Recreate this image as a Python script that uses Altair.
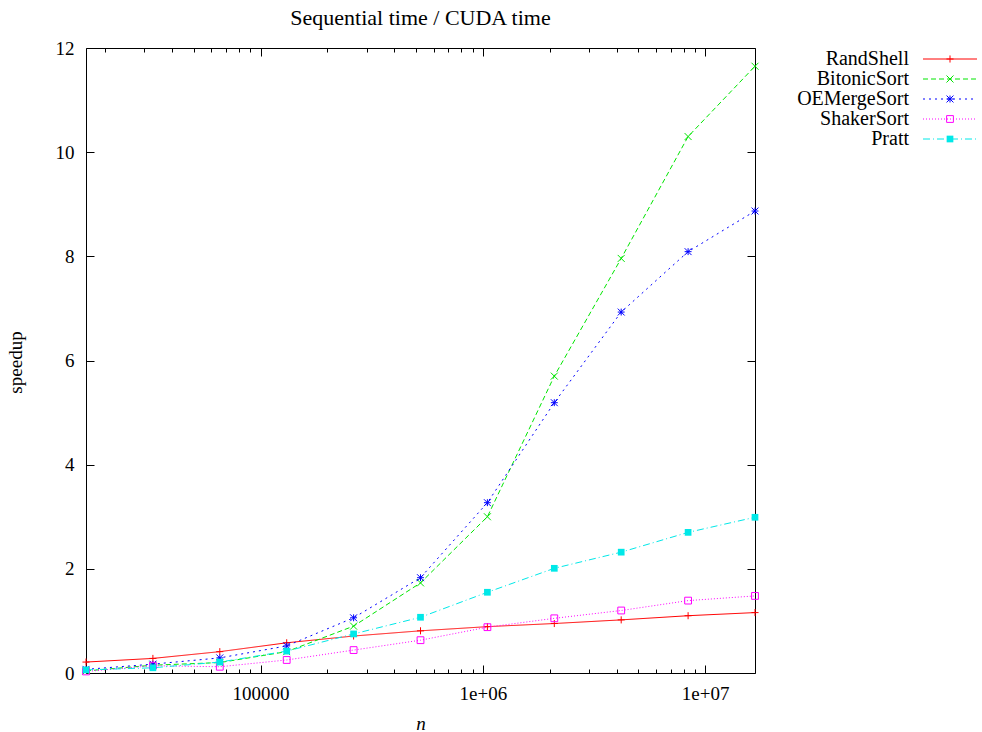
import altair as alt
import pandas as pd

FONT = "Liberation Serif"

# ---- data ----
n_values = [16384, 32768, 65536, 131072, 262144, 524288, 1048576,
            2097152, 4194304, 8388608, 16777216]
series_names = ["RandShell", "BitonicSort", "OEMergeSort", "ShakerSort", "Pratt"]
randshell = [0.21, 0.28, 0.41, 0.58, 0.71, 0.81, 0.89, 0.95, 1.02, 1.10, 1.16]
bitonic = [0.04, 0.15, 0.20, 0.41, 0.90, 1.73, 3.00, 5.70, 7.96, 10.30, 11.65]
oemerge = [0.07, 0.17, 0.29, 0.52, 1.06, 1.83, 3.27, 5.19, 6.93, 8.09, 8.87]
shaker = [0.03, 0.14, 0.12, 0.25, 0.44, 0.63, 0.88, 1.05, 1.20, 1.39, 1.48]
pratt = [0.06, 0.10, 0.21, 0.42, 0.75, 1.07, 1.55, 2.01, 2.32, 2.70, 2.99]

x_major_ticks = [100000, 1000000, 10000000]
x_major_labels = ["100000", "1e+06", "1e+07"]
x_minor_ticks = [20000, 30000, 40000, 50000, 60000, 70000, 80000, 90000,
                 200000, 300000, 400000, 500000, 600000, 700000, 800000, 900000,
                 2000000, 3000000, 4000000, 5000000, 6000000, 7000000, 8000000, 9000000]
y_ticks = [0, 2, 4, 6, 8, 10, 12]

# ---- styles ----
series_colors = ["#ff0000", "#00e600", "#0000ff", "#ff00ff", "#00e8e8"]
series_dashes = [[1, 0], [5, 3], [2, 4], [1, 2], [7, 3, 1, 3]]
series_shapes = ["M-1,0H1M0,-1V1",
                 "M-1,-1L1,1M-1,1L1,-1",
                 "M-1,0H1M0,-1V1M-1,-1L1,1M-1,1L1,-1",
                 "square", "square"]
series_sizes = [50, 45, 45, 38, 49]

values = [randshell, bitonic, oemerge, shaker, pratt]
rows = []
for name, vals in zip(series_names, values):
    for n, v in zip(n_values, vals):
        rows.append({"n": n, "speedup": v, "series": name})
df = pd.DataFrame(rows)

x_scale = alt.Scale(type="log", domain=[n_values[0], n_values[-1]], nice=False)
y_scale = alt.Scale(domain=[0, 12], nice=False)
color = alt.Color("series:N", scale=alt.Scale(domain=series_names, range=series_colors), legend=None)
dash = alt.StrokeDash("series:N", scale=alt.Scale(domain=series_names, range=series_dashes), legend=None)
shape = alt.Shape("series:N", scale=alt.Scale(domain=series_names, range=series_shapes), legend=None)
size = alt.Size("series:N", scale=alt.Scale(domain=series_names, range=series_sizes), legend=None)

common_axis = dict(domain=False, grid=False, tickColor="black", tickWidth=1,
                   labelFont=FONT, labelFontSize=19, labelColor="black",
                   titleFont=FONT, titleFontSize=19, titleColor="black",
                   titleFontWeight="normal")

label_expr = "[" + ",".join("'%s'" % s for s in x_major_labels) + "][indexof([" + \
    ",".join(str(v) for v in x_major_ticks) + "], datum.value)]"

ax_x_bottom = alt.Axis(orient="bottom", values=x_major_ticks, labelExpr=label_expr,
                       tickSize={"expr": "-8"}, labelPadding=19, title="n",
                       titleFontStyle="italic", titlePadding=11, **common_axis)
ax_x_bottom_minor = alt.Axis(orient="bottom", values=x_minor_ticks, labels=False,
                             tickSize={"expr": "-4"}, title=None, **common_axis)
ax_x_top = alt.Axis(orient="top", values=x_major_ticks, labels=False,
                    tickSize={"expr": "-8"}, title=None, **common_axis)
ax_x_top_minor = alt.Axis(orient="top", values=x_minor_ticks, labels=False,
                          tickSize={"expr": "-4"}, title=None, **common_axis)
ax_y_left = alt.Axis(orient="left", values=y_ticks, tickSize={"expr": "-8"},
                     labelPadding=20, title="speedup", titlePadding=30,
                     titleY=314, **common_axis)
ax_y_right = alt.Axis(orient="right", values=y_ticks, labels=False,
                      tickSize={"expr": "-8"}, title=None, **common_axis)

base = alt.Chart(df)

lines_a = base.mark_line(strokeWidth=1).encode(
    x=alt.X("n:Q", scale=x_scale, axis=ax_x_bottom),
    y=alt.Y("speedup:Q", scale=y_scale, axis=ax_y_left),
    color=color, strokeDash=dash, detail="series:N",
).transform_filter(alt.FieldOneOfPredicate(field="series", oneOf=series_names[:3]))

lines_b = base.mark_line(strokeWidth=1).encode(
    x=alt.X("n:Q", scale=x_scale, axis=ax_x_top_minor),
    y=alt.Y("speedup:Q", scale=y_scale, axis=ax_y_right),
    color=color, strokeDash=dash, detail="series:N",
).transform_filter(alt.FieldOneOfPredicate(field="series", oneOf=series_names[3:]))

points_open = base.mark_point(filled=False, strokeWidth=1, opacity=1).encode(
    x=alt.X("n:Q", scale=x_scale, axis=ax_x_bottom_minor),
    y=alt.Y("speedup:Q", scale=y_scale, axis=None),
    color=color, shape=shape, size=size,
).transform_filter(alt.FieldOneOfPredicate(field="series", oneOf=series_names[:4]))

points_filled = base.mark_point(filled=True, opacity=1).encode(
    x=alt.X("n:Q", scale=x_scale, axis=ax_x_top),
    y=alt.Y("speedup:Q", scale=y_scale, axis=None),
    color=color, shape=shape, size=size,
).transform_filter(alt.FieldOneOfPredicate(field="series", oneOf=series_names[4:]))

main = alt.layer(lines_a, lines_b, points_open, points_filled).resolve_axis(
    x="independent", y="independent"
).properties(
    width=669, height=625,
    title=alt.Title("Sequential time / CUDA time", font=FONT, fontSize=22,
                    fontWeight="normal", color="black", anchor="middle",
                    frame="group", baseline="alphabetic", offset=-8),
    view=alt.ViewBackground(stroke="black", strokeWidth=1),
)

# ---- gnuplot-style key ----
legend_df = pd.DataFrame({"series": series_names})
leg_y = alt.Y("series:N", sort=series_names, axis=None,
              scale=alt.Scale(domain=series_names, padding=0.1))
leg_base = alt.Chart(legend_df)
leg_text = leg_base.mark_text(align="right", baseline="middle", font=FONT,
                              fontSize=20, color="black").encode(
    y=leg_y, x=alt.value(154), text="series:N")
leg_line = leg_base.mark_rule(strokeWidth=1).encode(
    y=leg_y, x=alt.value(168), x2=alt.value(222), color=color, strokeDash=dash)
leg_pts = leg_base.mark_point(filled=False, strokeWidth=1, opacity=1).encode(
    y=leg_y, x=alt.value(195), color=color, shape=shape, size=size,
).transform_filter(alt.FieldOneOfPredicate(field="series", oneOf=series_names[:4]))
leg_fill = leg_base.mark_point(filled=True, opacity=1).encode(
    y=leg_y, x=alt.value(195), color=color, shape=shape, size=size,
).transform_filter(alt.FieldOneOfPredicate(field="series", oneOf=series_names[4:]))

legend = alt.layer(leg_text, leg_line, leg_pts, leg_fill).properties(
    width=222, height=alt.Step(20),
    view=alt.ViewBackground(strokeOpacity=0),
)

chart = alt.hconcat(main, legend, spacing=0, bounds="flush").properties(
    padding={"left": 5, "right": 3, "top": 6, "bottom": 0},
    background="white",
)

chart.save("out.html", embed_options={"renderer": "svg", "actions": False})
